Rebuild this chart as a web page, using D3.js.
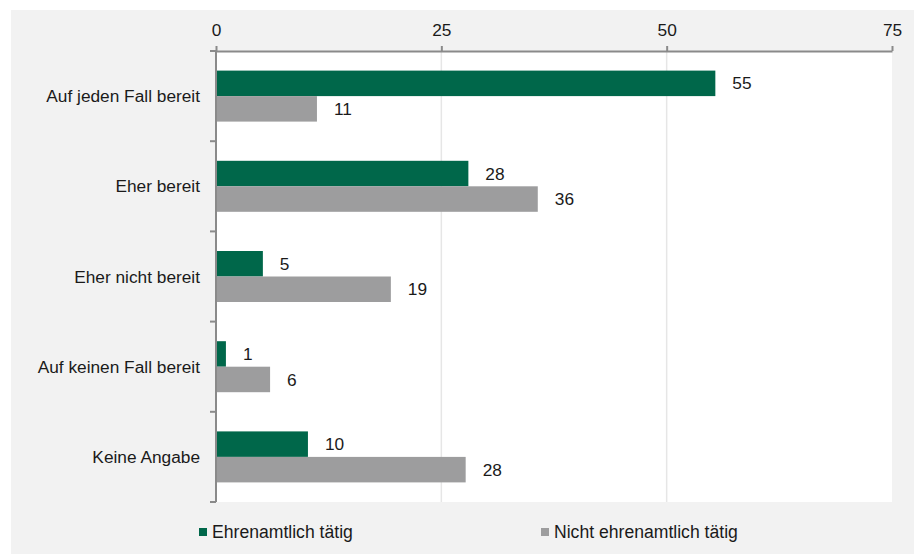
<!DOCTYPE html>
<html><head><meta charset="utf-8">
<script src="https://cdn.jsdelivr.net/npm/d3@7"></script>
<style>
html,body{margin:0;padding:0;background:#fff;}
svg{display:block;font-family:"Liberation Sans",Arial,sans-serif;}
</style></head>
<body>
<svg id="chart" width="914" height="554"></svg>
<script>
const categories = ["Auf jeden Fall bereit","Eher bereit","Eher nicht bereit","Auf keinen Fall bereit","Keine Angabe"];
const seriesNames = ["Ehrenamtlich tätig","Nicht ehrenamtlich tätig"];
const ehrenamtlich = [55.4, 28.0, 5.2, 1.1, 10.2];
const nichtEhrenamtlich = [11.2, 35.7, 19.4, 6.0, 27.7];
const xTicks = [0, 25, 50, 75];
const colors = ["#00674a", "#9d9d9e"];
const FS = 17.3;

const svg = d3.select("#chart");
svg.append("rect").attr("x",11).attr("y",10).attr("width",903).attr("height",544).attr("fill","#f2f2f2");

const m = {left:216, right:892, top:51, bottom:502};
const x = d3.scaleLinear().domain([0,75]).range([m.left, m.right]);
const y = d3.scaleBand().domain(categories).range([m.top, m.bottom]).paddingInner(0).paddingOuter(0);
const barH = 25.5;

svg.append("rect").attr("x",m.left).attr("y",m.top).attr("width",m.right-m.left).attr("height",m.bottom-m.top).attr("fill","#fff");

// gridlines
svg.append("g").selectAll("line").data(xTicks.filter(t=>t>0 && t<75)).join("line")
  .attr("x1",d=>x(d)).attr("x2",d=>x(d)).attr("y1",m.top).attr("y2",m.bottom)
  .attr("stroke","#e6e6e6").attr("stroke-width",1.5);

const data = categories.map((c,i)=>({cat:c, vals:[ehrenamtlich[i], nichtEhrenamtlich[i]]}));

const g = svg.append("g");
data.forEach(d=>{
  const c = y(d.cat) + y.bandwidth()/2;
  d.vals.forEach((v,j)=>{
    const top = c - barH + j*barH;
    g.append("rect").attr("x",x(0)).attr("y",top).attr("width",x(v)-x(0)).attr("height",barH)
      .attr("fill",colors[j]);
    g.append("text").attr("x",x(v)+17).attr("y",top+barH/2).attr("dy","0.35em")
      .attr("font-size",FS).attr("fill","#1a1a1a").text(Math.round(v));
  });
});

// top axis
const xAxis = d3.axisTop(x).tickValues(xTicks).tickSize(5).tickSizeOuter(0).tickPadding(10);
const gx = svg.append("g").attr("transform",`translate(0,${m.top})`).call(xAxis);
gx.select(".domain").attr("stroke","#8a8a8a").attr("stroke-width",2);
gx.selectAll(".tick line").attr("stroke","#8a8a8a").attr("stroke-width",2);
gx.selectAll("text").attr("font-size",FS).attr("fill","#1a1a1a").attr("font-family","Liberation Sans, Arial, sans-serif");

// left axis with ticks at band boundaries
svg.append("line").attr("x1",m.left).attr("x2",m.left).attr("y1",m.top).attr("y2",m.bottom)
  .attr("stroke","#8a8a8a").attr("stroke-width",2);
const bounds = categories.map(c=>y(c)).concat([m.bottom]);
svg.append("g").selectAll("line").data(bounds).join("line")
  .attr("x1",m.left-6).attr("x2",m.left).attr("y1",d=>d).attr("y2",d=>d)
  .attr("stroke","#8a8a8a").attr("stroke-width",2);
svg.append("g").selectAll("text").data(categories).join("text")
  .attr("x",m.left-16).attr("y",d=>y(d)+y.bandwidth()/2).attr("dy","0.35em")
  .attr("text-anchor","end").attr("font-size",FS).attr("fill","#1a1a1a").text(d=>d);

// legend
const legX = [199, 541];
seriesNames.forEach((s,i)=>{
  svg.append("rect").attr("x",legX[i]).attr("y",528).attr("width",8).attr("height",8).attr("fill",colors[i]);
  svg.append("text").attr("x",legX[i]+13).attr("y",532).attr("dy","0.35em")
    .attr("font-size",17.6).attr("fill","#1a1a1a").text(s);
});
</script>
</body></html>
